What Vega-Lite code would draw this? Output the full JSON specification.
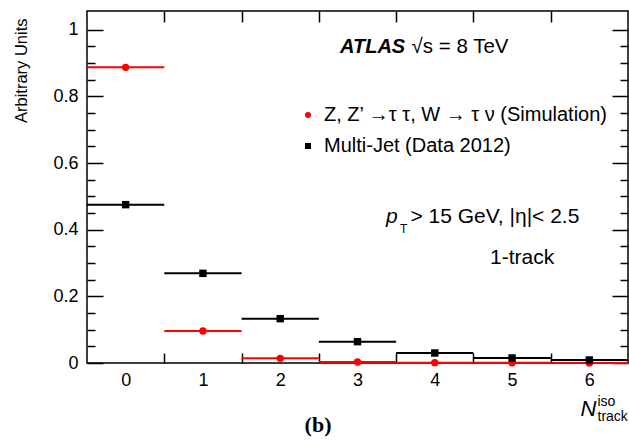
{
  "$schema": "https://vega.github.io/schema/vega-lite/v6.json",
  "width": 541,
  "height": 352,
  "autosize": {"type": "none"},
  "padding": {"left": 87, "top": 11, "right": 1, "bottom": 81},
  "background": "white",
  "config": {
    "view": {"stroke": "black", "strokeWidth": 1.5},
    "font": "Liberation Sans",
    "axis": {
      "grid": false,
      "domain": false,
      "labelFont": "Liberation Sans",
      "labelColor": "black",
      "labelFontSize": 18,
      "tickColor": "black",
      "tickWidth": 1.5,
      "titleFont": "Liberation Sans",
      "titleColor": "black",
      "titleFontWeight": "normal",
      "labelOverlap": false,
      "labelFlush": false
    },
    "legend": {"labelFont": "Liberation Sans", "labelColor": "black", "labelFontSize": 20, "labelLimit": 0, "symbolSize": 36, "rowPadding": 11, "labelOffset": 6, "symbolStrokeWidth": 0}
  },
  "datasets": {
    "hist": [
      {"bin": 0, "lo": -0.5, "hi": 0.5, "value": 0.887, "series": "Z, Z’ →τ τ, W → τ ν (Simulation)"},
      {"bin": 1, "lo": 0.5, "hi": 1.5, "value": 0.096, "series": "Z, Z’ →τ τ, W → τ ν (Simulation)"},
      {"bin": 2, "lo": 1.5, "hi": 2.5, "value": 0.014, "series": "Z, Z’ →τ τ, W → τ ν (Simulation)"},
      {"bin": 3, "lo": 2.5, "hi": 3.5, "value": 0.003, "series": "Z, Z’ →τ τ, W → τ ν (Simulation)"},
      {"bin": 4, "lo": 3.5, "hi": 4.5, "value": 0.001, "series": "Z, Z’ →τ τ, W → τ ν (Simulation)"},
      {"bin": 5, "lo": 4.5, "hi": 5.5, "value": 0.0005, "series": "Z, Z’ →τ τ, W → τ ν (Simulation)"},
      {"bin": 6, "lo": 5.5, "hi": 6.5, "value": 0.0003, "series": "Z, Z’ →τ τ, W → τ ν (Simulation)"},
      {"bin": 0, "lo": -0.5, "hi": 0.5, "value": 0.475, "series": "Multi-Jet (Data 2012)"},
      {"bin": 1, "lo": 0.5, "hi": 1.5, "value": 0.269, "series": "Multi-Jet (Data 2012)"},
      {"bin": 2, "lo": 1.5, "hi": 2.5, "value": 0.133, "series": "Multi-Jet (Data 2012)"},
      {"bin": 3, "lo": 2.5, "hi": 3.5, "value": 0.064, "series": "Multi-Jet (Data 2012)"},
      {"bin": 4, "lo": 3.5, "hi": 4.5, "value": 0.030, "series": "Multi-Jet (Data 2012)"},
      {"bin": 5, "lo": 4.5, "hi": 5.5, "value": 0.015, "series": "Multi-Jet (Data 2012)"},
      {"bin": 6, "lo": 5.5, "hi": 6.5, "value": 0.009, "series": "Multi-Jet (Data 2012)"}
    ]
  },
  "layer": [
    {
      "data": {"name": "hist"},
      "mark": {"type": "rule", "strokeWidth": 2},
      "encoding": {
        "x": {"field": "lo", "type": "quantitative", "scale": {"domain": [-0.5, 6.5], "nice": false, "zero": false},
          "axis": {"orient": "bottom", "values": [0, 1, 2, 3, 4, 5, 6], "ticks": false, "labelPadding": 8, "format": "d",
            "title": "N", "titleFontSize": 22, "titleFontStyle": "italic", "titleAlign": "left", "titleBaseline": "alphabetic", "titleAngle": 0, "titleX": 493, "titleY": 52}},
        "x2": {"field": "hi"},
        "y": {"field": "value", "type": "quantitative", "scale": {"domain": [0, 1.056], "nice": false, "zero": false},
          "axis": {"orient": "left", "values": [0, 0.2, 0.4, 0.6, 0.8, 1], "ticks": false, "labelPadding": 9, "format": "~g",
            "title": "Arbitrary Units", "titleFontSize": 16.5, "titleAngle": 270, "titleAlign": "right", "titleBaseline": "alphabetic", "titleX": -61, "titleY": 7}},
        "color": {"field": "series", "type": "nominal", "title": null, "scale": {"domain": ["Z, Z’ →τ τ, W → τ ν (Simulation)", "Multi-Jet (Data 2012)"], "range": ["#ff0000", "#000000"]},
          "legend": {"orient": "none", "legendX": 211, "legendY": 94}}
      }
    },
    {
      "data": {"name": "hist"},
      "mark": {"type": "point", "filled": true, "opacity": 1, "size": 55},
      "encoding": {
        "x": {"field": "bin", "type": "quantitative", "scale": {"domain": [-0.5, 6.5], "nice": false, "zero": false},
          "axis": {"orient": "bottom", "values": [0.5, 1.5, 2.5, 3.5, 4.5, 5.5], "labels": false, "tickSize": -10,
            "title": "iso", "titleFontSize": 14, "titleAlign": "left", "titleBaseline": "alphabetic", "titleAngle": 0, "titleX": 510, "titleY": 42}},
        "y": {"field": "value", "type": "quantitative", "scale": {"domain": [0, 1.056], "nice": false, "zero": false},
          "axis": {"orient": "left", "values": [0, 0.2, 0.4, 0.6, 0.8, 1], "labels": false, "tickSize": -16, "title": null}},
        "color": {"field": "series", "type": "nominal", "title": null, "scale": {"domain": ["Z, Z’ →τ τ, W → τ ν (Simulation)", "Multi-Jet (Data 2012)"], "range": ["#ff0000", "#000000"]},
          "legend": {"orient": "none", "legendX": 211, "legendY": 94}},
        "shape": {"field": "series", "type": "nominal", "title": null, "scale": {"domain": ["Z, Z’ →τ τ, W → τ ν (Simulation)", "Multi-Jet (Data 2012)"], "range": ["circle", "square"]},
          "legend": {"orient": "none", "legendX": 211, "legendY": 94}}
      }
    },
    {
      "data": {"values": [{"label": "ATLAS", "x": 2.774, "y": 0.93}]},
      "mark": {"type": "text", "font": "Liberation Sans", "fontWeight": "bold", "fontStyle": "italic", "fontSize": 20, "align": "left", "baseline": "alphabetic"},
      "encoding": {
        "x": {"field": "x", "type": "quantitative", "scale": {"domain": [-0.5, 6.5], "nice": false, "zero": false},
          "axis": {"orient": "top", "values": [0.5, 1.5, 2.5, 3.5, 4.5, 5.5], "labels": false, "tickSize": -11,
            "title": "track", "titleFontSize": 14, "titleAlign": "left", "titleBaseline": "alphabetic", "titleAngle": 0, "titleX": 510, "titleY": 409}},
        "y": {"field": "y", "type": "quantitative", "scale": {"domain": [0, 1.056], "nice": false, "zero": false},
          "axis": {"orient": "left", "values": [0.05, 0.1, 0.15, 0.25, 0.3, 0.35, 0.45, 0.5, 0.55, 0.65, 0.7, 0.75, 0.85, 0.9, 0.95], "labels": false, "tickSize": -8, "title": null}},
        "text": {"field": "label"}
      }
    },
    {
      "data": {"values": [
        {"label": "√s = 8 TeV", "x": 3.7, "y": 0.93}
      ]},
      "mark": {"type": "text", "font": "Liberation Sans", "fontSize": 20.5, "align": "left", "baseline": "alphabetic"},
      "encoding": {
        "x": {"field": "x", "type": "quantitative", "scale": {"domain": [-0.5, 6.5], "nice": false, "zero": false}, "axis": null},
        "y": {"field": "y", "type": "quantitative", "scale": {"domain": [0, 1.056], "nice": false, "zero": false},
          "axis": {"orient": "right", "values": [0, 0.2, 0.4, 0.6, 0.8, 1], "labels": false, "tickSize": -16, "title": null}},
        "text": {"field": "label"}
      }
    },
    {
      "data": {"values": [{"label": "p", "x": 3.37, "y": 0.42}]},
      "mark": {"type": "text", "font": "Liberation Sans", "fontStyle": "italic", "fontSize": 21, "align": "left", "baseline": "alphabetic"},
      "encoding": {
        "x": {"field": "x", "type": "quantitative", "scale": {"domain": [-0.5, 6.5], "nice": false, "zero": false}, "axis": null},
        "y": {"field": "y", "type": "quantitative", "scale": {"domain": [0, 1.056], "nice": false, "zero": false},
          "axis": {"orient": "right", "values": [0.05, 0.1, 0.15, 0.25, 0.3, 0.35, 0.45, 0.5, 0.55, 0.65, 0.7, 0.75, 0.85, 0.9, 0.95], "labels": false, "tickSize": -8, "title": null}},
        "text": {"field": "label"}
      }
    },
    {
      "data": {"values": [
        {"label": "> 15 GeV, |η|< 2.5", "x": 3.685, "y": 0.42},
        {"label": "1-track", "x": 4.714, "y": 0.297}
      ]},
      "mark": {"type": "text", "font": "Liberation Sans", "fontSize": 21, "align": "left", "baseline": "alphabetic"},
      "encoding": {
        "x": {"field": "x", "type": "quantitative", "scale": {"domain": [-0.5, 6.5], "nice": false, "zero": false}, "axis": null},
        "y": {"field": "y", "type": "quantitative", "scale": {"domain": [0, 1.056], "nice": false, "zero": false}, "axis": null},
        "text": {"field": "label"}
      }
    },
    {
      "data": {"values": [{"label": "T", "x": 3.55, "y": 0.39}]},
      "mark": {"type": "text", "font": "Liberation Sans", "fontSize": 12, "align": "left", "baseline": "alphabetic"},
      "encoding": {
        "x": {"field": "x", "type": "quantitative", "scale": {"domain": [-0.5, 6.5], "nice": false, "zero": false}, "axis": null},
        "y": {"field": "y", "type": "quantitative", "scale": {"domain": [0, 1.056], "nice": false, "zero": false}, "axis": null},
        "text": {"field": "label"}
      }
    },
    {
      "data": {"values": [{"label": "(b)", "x": 2.489, "y": -0.207}]},
      "mark": {"type": "text", "font": "Liberation Serif", "fontWeight": "bold", "fontSize": 22, "align": "center", "baseline": "alphabetic"},
      "encoding": {
        "x": {"field": "x", "type": "quantitative", "scale": {"domain": [-0.5, 6.5], "nice": false, "zero": false}, "axis": null},
        "y": {"field": "y", "type": "quantitative", "scale": {"domain": [0, 1.056], "nice": false, "zero": false}, "axis": null},
        "text": {"field": "label"}
      }
    }
  ],
  "resolve": {"axis": {"x": "independent", "y": "independent"}}
}
